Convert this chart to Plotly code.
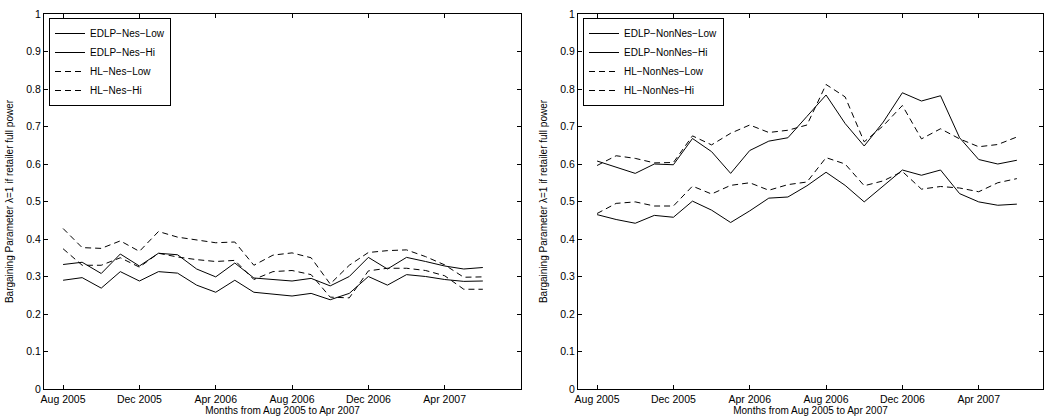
import plotly.graph_objects as go

months = list(range(23))
tick_pos = [0, 4, 8, 12, 16, 20]
tick_labels = ["Aug 2005", "Dec 2005", "Apr 2006", "Aug 2006", "Dec 2006", "Apr 2007"]
y_ticks = [0, 0.1, 0.2, 0.3, 0.4, 0.5, 0.6, 0.7, 0.8, 0.9, 1]
y_tick_labels = ["0", "0.1", "0.2", "0.3", "0.4", "0.5", "0.6", "0.7", "0.8", "0.9", "1"]

edlp_nes_low = [0.290, 0.297, 0.269, 0.313, 0.288, 0.313, 0.309, 0.277, 0.258, 0.290, 0.258, 0.254,
                0.248, 0.255, 0.238, 0.255, 0.300, 0.277, 0.305, 0.300, 0.292, 0.287, 0.288]
edlp_nes_hi = [0.332, 0.338, 0.308, 0.360, 0.328, 0.362, 0.358, 0.320, 0.299, 0.336, 0.296, 0.292,
               0.288, 0.295, 0.275, 0.300, 0.351, 0.320, 0.351, 0.340, 0.328, 0.320, 0.324]
hl_nes_low = [0.374, 0.330, 0.330, 0.350, 0.325, 0.362, 0.352, 0.345, 0.340, 0.343, 0.292, 0.313,
              0.316, 0.305, 0.245, 0.243, 0.315, 0.322, 0.322, 0.316, 0.302, 0.266, 0.266]
hl_nes_hi = [0.428, 0.377, 0.375, 0.395, 0.367, 0.420, 0.405, 0.397, 0.390, 0.392, 0.330, 0.357,
             0.363, 0.350, 0.280, 0.330, 0.364, 0.369, 0.371, 0.353, 0.331, 0.298, 0.299]

edlp_non_low = [0.465, 0.452, 0.442, 0.463, 0.458, 0.501, 0.477, 0.444, 0.475, 0.509, 0.512, 0.542,
                0.578, 0.543, 0.499, 0.541, 0.584, 0.570, 0.584, 0.521, 0.499, 0.490, 0.493]
edlp_non_hi = [0.608, 0.592, 0.575, 0.600, 0.598, 0.668, 0.633, 0.575, 0.636, 0.661, 0.670, 0.727,
               0.784, 0.708, 0.648, 0.712, 0.790, 0.768, 0.782, 0.670, 0.612, 0.600, 0.610]
hl_non_low = [0.468, 0.495, 0.499, 0.488, 0.488, 0.541, 0.520, 0.543, 0.550, 0.530, 0.545, 0.552,
              0.617, 0.600, 0.542, 0.555, 0.580, 0.533, 0.540, 0.536, 0.526, 0.550, 0.561]
hl_non_hi = [0.596, 0.622, 0.615, 0.603, 0.604, 0.675, 0.651, 0.682, 0.704, 0.684, 0.690, 0.704,
             0.812, 0.779, 0.659, 0.702, 0.756, 0.667, 0.694, 0.667, 0.646, 0.652, 0.672]

W, H = 1044, 417
fig = go.Figure()

dash_style = "6px,4px"

left = [("EDLP\u2212Nes\u2212Low", edlp_nes_low, "solid"),
        ("EDLP\u2212Nes\u2212Hi", edlp_nes_hi, "solid"),
        ("HL\u2212Nes\u2212Low", hl_nes_low, dash_style),
        ("HL\u2212Nes\u2212Hi", hl_nes_hi, dash_style)]
right = [("EDLP\u2212NonNes\u2212Low", edlp_non_low, "solid"),
         ("EDLP\u2212NonNes\u2212Hi", edlp_non_hi, "solid"),
         ("HL\u2212NonNes\u2212Low", hl_non_low, dash_style),
         ("HL\u2212NonNes\u2212Hi", hl_non_hi, dash_style)]

for name, vals, d in left:
    fig.add_trace(go.Scatter(x=months, y=vals, mode="lines", name=name,
                             line=dict(color="black", width=1, dash=d),
                             xaxis="x", yaxis="y", legend="legend"))
for name, vals, d in right:
    fig.add_trace(go.Scatter(x=months, y=vals, mode="lines", name=name,
                             line=dict(color="black", width=1, dash=d),
                             xaxis="x2", yaxis="y2", legend="legend2"))

font = dict(family="Liberation Sans, Arial, sans-serif", size=10, color="black")
ydom = [1 - 389 / H, 1 - 14 / H]

def xaxis(dom, rng, anchor):
    return dict(domain=dom, range=rng, anchor=anchor, tickmode="array", tickvals=tick_pos,
                ticktext=tick_labels, ticks="inside", ticklen=4, tickcolor="black",
                showline=True, linecolor="black", linewidth=1, mirror="ticks",
                showgrid=False, zeroline=False, automargin=False,
                tickfont=dict(size=10.5), title=dict(text="Months from Aug 2005 to Apr 2007",
                                                    font=dict(size=10), standoff=3))

def yaxis(rng, anchor):
    return dict(domain=ydom, range=rng, anchor=anchor, tickmode="array", tickvals=y_ticks,
                ticktext=y_tick_labels, ticks="inside", ticklen=4, tickcolor="black",
                showline=True, linecolor="black", linewidth=1, mirror="ticks",
                showgrid=False, zeroline=False, automargin=False,
                tickfont=dict(size=10.5),
                title=dict(text="Bargaining Parameter \u03bb=1 if retailer full power",
                           font=dict(size=10), standoff=10))

legend_common = dict(bgcolor="white", bordercolor="black", borderwidth=1,
                     font=dict(size=10), xanchor="left", yanchor="top",
                     tracegroupgap=0, itemwidth=30)

fig.update_layout(
    width=W, height=H,
    margin=dict(l=0, r=0, t=0, b=0),
    paper_bgcolor="white", plot_bgcolor="white",
    font=font,
    showlegend=True,
    xaxis=xaxis([44 / W, 521 / W], [-1, 24], "y"),
    yaxis=yaxis([0, 1], "x"),
    xaxis2=xaxis([578 / W, 1043 / W], [-1, 23.37], "y2"),
    yaxis2=yaxis([0, 1], "x2"),
    legend=dict(x=49 / W, y=1 - 18 / H, **legend_common),
    legend2=dict(x=583 / W, y=1 - 18 / H, **legend_common),
)

fig.write_html("out.html")
